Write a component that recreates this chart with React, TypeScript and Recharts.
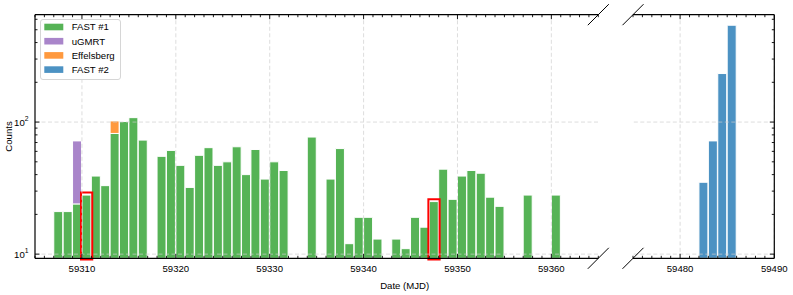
import { BarChart, Bar, XAxis, YAxis, ReferenceLine, ReferenceArea } from 'recharts'

// FAST #1 daily burst counts (left panel)
const FAST1_DAYS = [
  59307, 59308, 59309, 59310, 59311, 59312, 59313, 59314, 59315, 59316,
  59318, 59319, 59320, 59321, 59322, 59323, 59324, 59325, 59326, 59327,
  59328, 59329, 59330, 59331, 59334, 59336, 59337, 59338, 59339, 59340,
  59341, 59343, 59344, 59345, 59346, 59347, 59348, 59349, 59350, 59351,
  59352, 59353, 59354, 59357, 59360,
]
const FAST1_COUNTS = [
  21, 21, 24, 28, 39, 33, 82, 101, 108, 73,
  55, 61, 47, 32, 56, 64, 47, 50, 65, 40,
  62, 37, 50, 43, 77, 37, 63, 12, 19, 19,
  13, 13, 11, 19, 16, 25, 44, 26, 39, 43,
  41, 27, 23, 28, 28,
]
const UGMRT_DAYS = [59309]
const UGMRT_COUNTS = [48]
const EFF_DAYS = [59313]
const EFF_COUNTS = [20]

// FAST #2 (right panel)
const FAST2_DAYS = [59482, 59483, 59484, 59485]
const FAST2_COUNTS = [35, 72, 233, 541]

const LEFT_DOMAIN = [59305, 59365]
const RIGHT_DOMAIN = [59475, 59490]
const LEFT_MAJOR = [59310, 59320, 59330, 59340, 59350, 59360]
const RIGHT_MAJOR = [59480, 59490]
const Y_DOMAIN = [9.3, 650]
const Y_TICKS = [10, 20, 30, 40, 50, 60, 70, 80, 90, 100, 200, 300, 400, 500, 600]
const Y_MAJOR = [10, 100]

// highlighted bins (red boxes)
const BOX_X1 = [59309.9, 59346.9]
const BOX_X2 = [59311.1, 59348.1]
const BOX_TOP = [29.3, 26]
const BOX_BOTTOM = 9.1

const SERIES = [
  { key: 'fast1', name: 'FAST #1', color: '#56b356' },
  { key: 'ugmrt', name: 'uGMRT', color: '#a985ca' },
  { key: 'eff', name: 'Effelsberg', color: '#ff993e' },
  { key: 'fast2', name: 'FAST #2', color: '#4c92c3' },
]

const FONT = '"Liberation Sans", Arial, Helvetica, sans-serif'
const W = 793
const H = 295
const PLOT_TOP = 14.7
const PLOT_BOTTOM = 258.3
const LEFT_X0 = 35
const LEFT_X1 = 598.3
const RIGHT_X0 = 633
const RIGHT_X1 = 774.3

const GRID = { stroke: '#cccccc', strokeOpacity: 0.75, strokeDasharray: '4 2.5', strokeWidth: 0.9 }
const AXIS_LINE = { stroke: '#000', strokeWidth: 1.2 }

function valueOn(days: number[], counts: number[], day: number) {
  const i = days.indexOf(day)
  return i < 0 ? 0 : counts[i]
}

const leftDays = Array.from(new Set([...FAST1_DAYS, ...UGMRT_DAYS, ...EFF_DAYS])).sort((a, b) => a - b)
const leftData = leftDays.map((d) => ({
  x: d + 0.5,
  fast1: valueOn(FAST1_DAYS, FAST1_COUNTS, d),
  ugmrt: valueOn(UGMRT_DAYS, UGMRT_COUNTS, d),
  eff: valueOn(EFF_DAYS, EFF_COUNTS, d),
}))
const rightData = FAST2_DAYS.map((d, i) => ({ x: d + 0.5, fast2: FAST2_COUNTS[i] }))

function range(a: number, b: number) {
  const out: number[] = []
  for (let v = a; v <= b; v++) out.push(v)
  return out
}

const XTickBottom = (props: any) => {
  const { x, y, payload } = props
  const v = payload.value
  const major = v % 10 === 0
  return (
    <g>
      <line x1={x} x2={x} y1={y} y2={y - (major ? 4.5 : 2.5)} stroke="#000" strokeWidth={0.9} />
      {major && (
        <text x={x} y={y + 13.5} textAnchor="middle" fontSize={9.6} fontFamily={FONT} fill="#000">
          {v}
        </text>
      )}
    </g>
  )
}

const XTickTop = (props: any) => {
  const { x, y, payload } = props
  const major = payload.value % 10 === 0
  return <line x1={x} x2={x} y1={y} y2={y + (major ? 4.5 : 2.5)} stroke="#000" strokeWidth={0.9} />
}

const YTickLeft = (props: any) => {
  const { x, y, payload } = props
  const v = payload.value
  const major = Y_MAJOR.includes(v)
  return (
    <g>
      <line x1={x} x2={x + (major ? 4.5 : 2.5)} y1={y} y2={y} stroke="#000" strokeWidth={0.9} />
      {major && (
        <text x={x - 6.5} y={y + 3.5} textAnchor="end" fontSize={9.6} fontFamily={FONT} fill="#000">
          10
          <tspan dy={-4.5} fontSize={6.8}>
            {Math.round(Math.log10(v))}
          </tspan>
        </text>
      )}
    </g>
  )
}

const YTickRight = (props: any) => {
  const { x, y, payload } = props
  const major = Y_MAJOR.includes(payload.value)
  return <line x1={x} x2={x - (major ? 4.5 : 2.5)} y1={y} y2={y} stroke="#000" strokeWidth={0.9} />
}

type PanelProps = {
  data: any[]
  domain: number[]
  x0: number
  x1: number
  side: 'left' | 'right'
  layer: 'bars' | 'frame'
  majors: number[]
  series: typeof SERIES
  stacked?: boolean
  boxes?: boolean
}

// Each panel is drawn twice: once with the bars, once on top with spines, grid and boxes
function Panel({ data, domain, x0, x1, side, layer, majors, series, stacked, boxes }: PanelProps) {
  const frame = layer === 'frame'
  const ax = frame ? 1 : 0
  const margin = {
    top: PLOT_TOP - ax,
    bottom: H - PLOT_BOTTOM - ax,
    left: side === 'left' ? x0 - ax : x0,
    right: side === 'right' ? W - x1 - ax : W - x1,
  }
  const xTicks = range(domain[0], domain[1])
  return (
    <BarChart width={W} height={H} data={data} margin={margin}>
      <XAxis
        dataKey="x"
        type="number"
        domain={domain}
        allowDataOverflow
        hide={!frame}
        ticks={xTicks}
        interval={0}
        height={1}
        tickSize={0}
        tickMargin={0}
        tickLine={false}
        axisLine={AXIS_LINE}
        tick={XTickBottom}
      />
      {frame && (
        <XAxis
          xAxisId="top"
          orientation="top"
          dataKey="x"
          type="number"
          domain={domain}
          allowDataOverflow
          ticks={xTicks}
          interval={0}
          height={1}
          tickSize={0}
          tickMargin={0}
          tickLine={false}
          axisLine={AXIS_LINE}
          tick={XTickTop}
        />
      )}
      <YAxis
        orientation={side}
        type="number"
        scale="log"
        domain={Y_DOMAIN}
        allowDataOverflow
        hide={!frame}
        ticks={Y_TICKS}
        interval={0}
        width={1}
        tickSize={0}
        tickMargin={0}
        tickLine={false}
        axisLine={AXIS_LINE}
        tick={side === 'left' ? YTickLeft : YTickRight}
      />
      {!frame &&
        series.map((s) => (
          <Bar
            key={s.key}
            dataKey={s.key}
            name={s.name}
            stackId={stacked ? 'a' : undefined}
            fill={s.color}
            stroke="#fff"
            strokeWidth={1}
            barSize={9}
            isAnimationActive={false}
          />
        ))}
      {frame &&
        majors.map((v) => <ReferenceLine key={'vx' + v} x={v} {...GRID} />)}
      {frame &&
        Y_MAJOR.map((v) => <ReferenceLine key={'hy' + v} y={v} {...GRID} />)}
      {frame &&
        boxes &&
        BOX_X1.map((b1, i) => (
          <ReferenceArea
            key={'box' + i}
            x1={b1}
            x2={BOX_X2[i]}
            y1={BOX_BOTTOM}
            y2={BOX_TOP[i]}
            fill="none"
            fillOpacity={0}
            stroke="#ff0000"
            strokeWidth={2}
            strokeOpacity={1}
            ifOverflow="visible"
          />
        ))}
    </BarChart>
  )
}

function Overlay() {
  const breakLine = (x: number, y: number) => (
    <line x1={x - 10.5} y1={y + 10.5} x2={x + 10.5} y2={y - 10.5} stroke="#000" strokeWidth={1} />
  )
  return (
    <svg width={W} height={H} style={{ position: 'absolute', left: 0, top: 0, pointerEvents: 'none' }}>
      {breakLine(LEFT_X1, PLOT_TOP)}
      {breakLine(LEFT_X1, PLOT_BOTTOM)}
      {breakLine(RIGHT_X0, PLOT_TOP)}
      {breakLine(RIGHT_X0, PLOT_BOTTOM)}
      <text x={(LEFT_X0 + RIGHT_X1) / 2} y={288.5} textAnchor="middle" fontSize={9.6} fontFamily={FONT} fill="#000">
        Date (MJD)
      </text>
      <text
        transform={`translate(11.5, ${(PLOT_TOP + PLOT_BOTTOM) / 2}) rotate(-90)`}
        textAnchor="middle"
        fontSize={9.6}
        fontFamily={FONT}
        fill="#000"
      >
        Counts
      </text>
      <g transform="translate(40, 19)">
        <rect x={0.5} y={0.5} width={80} height={60} rx={2.5} fill="#fff" fillOpacity={0.8} stroke="#d6d6d6" />
        {SERIES.map((s, i) => (
          <g key={s.key} transform={`translate(0, ${8 + i * 14.2})`}>
            <rect x={4.3} y={-3.3} width={19} height={6.6} fill={s.color} />
            <text x={31.7} y={3.4} fontSize={9.6} fontFamily={FONT} fill="#000">
              {s.name}
            </text>
          </g>
        ))}
      </g>
    </svg>
  )
}

const layerStyle = { position: 'absolute' as const, left: 0, top: 0 }

export default function App() {
  const left = { data: leftData, domain: LEFT_DOMAIN, x0: LEFT_X0, x1: LEFT_X1, side: 'left' as const, majors: LEFT_MAJOR, series: SERIES.slice(0, 3), stacked: true, boxes: true }
  const right = { data: rightData, domain: RIGHT_DOMAIN, x0: RIGHT_X0, x1: RIGHT_X1, side: 'right' as const, majors: RIGHT_MAJOR, series: SERIES.slice(3) }
  return (
    <div style={{ position: 'absolute', left: 0, top: 0, width: W, height: H, background: '#fff', fontFamily: FONT }}>
      <div style={layerStyle}><Panel {...left} layer="bars" /></div>
      <div style={layerStyle}><Panel {...right} layer="bars" /></div>
      <div style={layerStyle}><Panel {...left} layer="frame" /></div>
      <div style={layerStyle}><Panel {...right} layer="frame" /></div>
      <Overlay />
    </div>
  )
}
